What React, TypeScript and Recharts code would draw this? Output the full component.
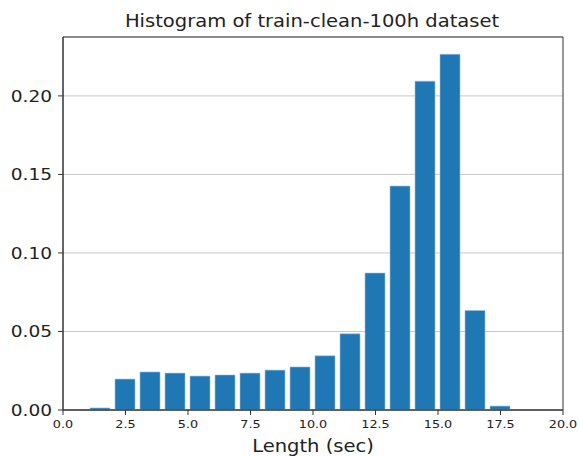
import React from 'react';
import { BarChart, Bar, XAxis, YAxis, CartesianGrid, ReferenceArea } from 'recharts';

const lengths = [1.5, 2.5, 3.5, 4.5, 5.5, 6.5, 7.5, 8.5, 9.5, 10.5, 11.5, 12.5, 13.5, 14.5, 15.5, 16.5, 17.5];
const density = [0.0013, 0.0197, 0.0242, 0.0235, 0.0216, 0.0223, 0.0235, 0.0254, 0.0274, 0.0345, 0.0485, 0.0872, 0.1426, 0.2094, 0.2265, 0.0634, 0.0025];
const xTicks = [0, 2.5, 5, 7.5, 10, 12.5, 15, 17.5, 20];
const yTicks = [0, 0.05, 0.1, 0.15, 0.2];
const title = 'Histogram of train-clean-100h dataset';
const xLabel = 'Length (sec)';

const data = lengths.map((x, i) => ({ x, y: density[i] }));

const FONT = '"DejaVu Sans", sans-serif';
const SX = 1.16;

const XTick = (props: any) => {
  const { x, y, payload } = props;
  return (
    <g transform={`translate(${x},${y}) scale(${SX},1)`}>
      <text x={0} y={0} dy={11} textAnchor="middle" fontSize={11} fontFamily={FONT} fill="#222">
        {Number(payload.value).toFixed(1)}
      </text>
    </g>
  );
};

const YTick = (props: any) => {
  const { x, y, payload } = props;
  return (
    <g transform={`translate(${x},${y}) scale(${SX},1)`}>
      <text x={0} y={0} dy={5.8} textAnchor="end" fontSize={16} fontFamily={FONT} fill="#222">
        {Number(payload.value).toFixed(2)}
      </text>
    </g>
  );
};

export default function App() {
  return (
    <div style={{ position: 'absolute', left: 0, top: 0, width: 579, height: 456, background: '#fff' }}>
      <BarChart width={579} height={456} data={data} margin={{ top: 37, right: 16, bottom: 0, left: 0 }}>
        <CartesianGrid vertical={false} stroke="#c8c8c8" strokeWidth={1} />
        <XAxis
          dataKey="x"
          type="number"
          domain={[0, 20]}
          ticks={xTicks}
          allowDataOverflow
          height={46}
          tickSize={5}
          tickMargin={2}
          tick={<XTick />}
          axisLine={{ stroke: '#333' }}
          tickLine={{ stroke: '#333' }}
          interval={0}
        />
        <YAxis
          type="number"
          domain={[0, 0.2375]}
          ticks={yTicks}
          allowDataOverflow
          width={63}
          tickSize={5}
          tickMargin={6}
          tick={<YTick />}
          axisLine={{ stroke: '#333' }}
          tickLine={{ stroke: '#333' }}
          interval={0}
        />
        <Bar dataKey="y" fill="#1f77b4" stroke="#9cc0de" strokeWidth={0.6} barSize={20} isAnimationActive={false} />
        <ReferenceArea x1={0} x2={20} y1={0} y2={0.2375} fill="none" stroke="#333" strokeWidth={1} ifOverflow="visible" />
        <g transform={`translate(312,26.7) scale(1.15,1)`}>
          <text x={0} y={0} textAnchor="middle" fontSize={17} fontFamily={FONT} fill="#222">{title}</text>
        </g>
        <g transform={`translate(313,452.3) scale(1.15,1)`}>
          <text x={0} y={0} textAnchor="middle" fontSize={17} fontFamily={FONT} fill="#222">{xLabel}</text>
        </g>
      </BarChart>
    </div>
  );
}
